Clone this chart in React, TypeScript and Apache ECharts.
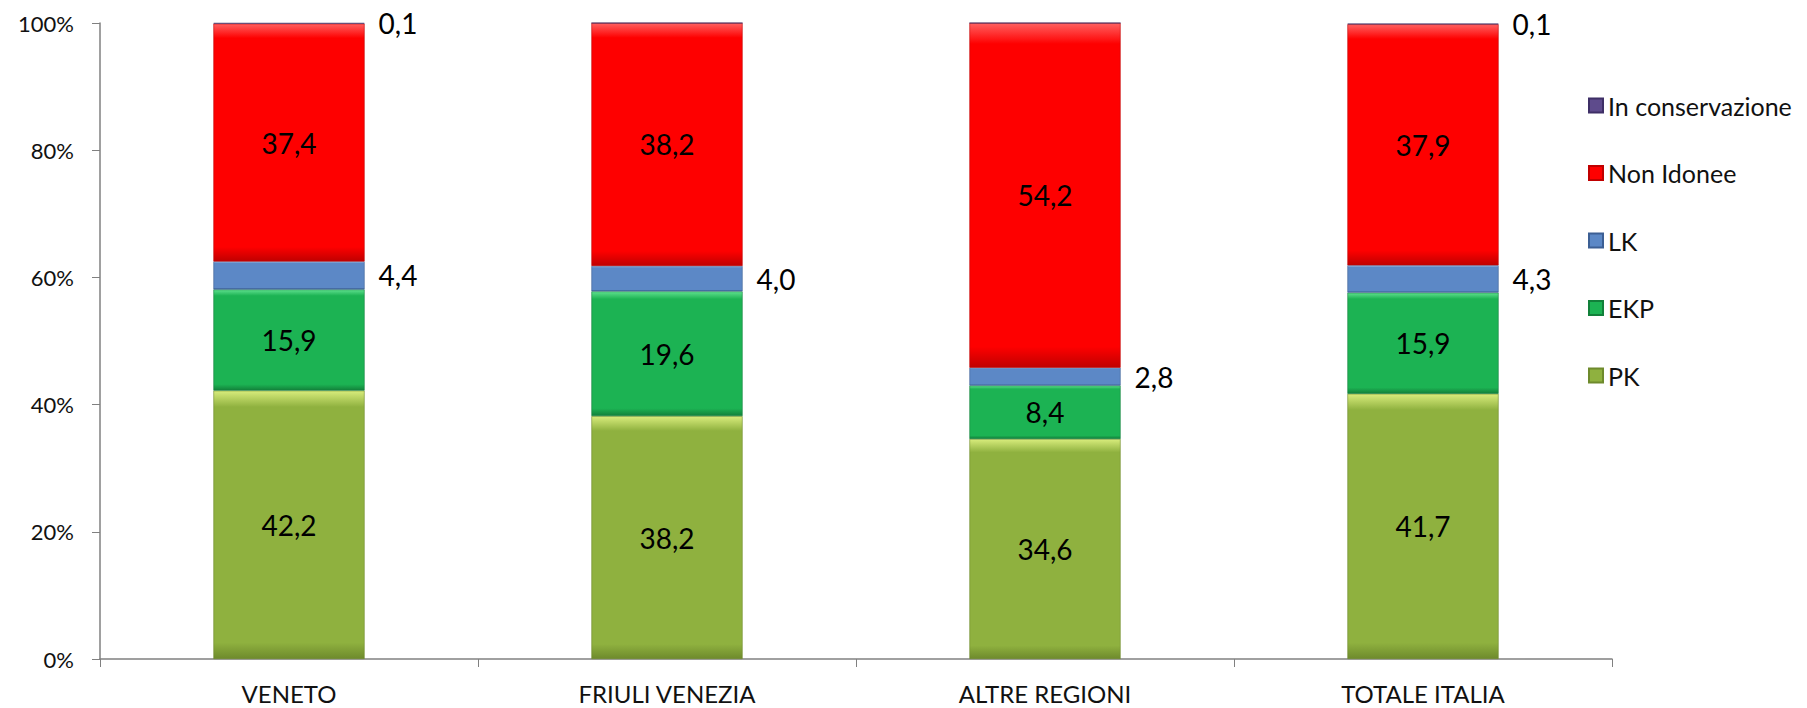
import React, { useEffect, useRef } from "react";
import * as echarts from "echarts";

const categories = ["VENETO", "FRIULI VENEZIA", "ALTRE REGIONI", "TOTALE ITALIA"];
const pk = [42.2, 38.2, 34.6, 41.7];
const ekp = [15.9, 19.6, 8.4, 15.9];
const lk = [4.4, 4.0, 2.8, 4.3];
const nonIdonee = [37.4, 38.2, 54.2, 37.9];
const inConservazione = [0.1, 0, 0, 0.1];
const yTicks = [0, 20, 40, 60, 80, 100];

const FONT = "Lato, 'Open Sans', sans-serif";

function grad(light: string, body: string, dark: string) {
  return new echarts.graphic.LinearGradient(0, 0, 0, 1, [
    { offset: 0, color: light },
    { offset: 0.06, color: body },
    { offset: 0.94, color: body },
    { offset: 1, color: dark },
  ]);
}

const fmt = (v: number) => v.toFixed(1).replace(".", ",");

export default function App() {
  const ref = useRef<HTMLDivElement>(null);
  useEffect(() => {
    if (!ref.current) return;
    document.body.style.margin = "0";
    document.body.style.overflow = "hidden";
    const chart = echarts.init(ref.current, undefined, { renderer: "svg" });
    const insideLabel = {
      show: true,
      position: "inside" as const,
      fontFamily: FONT,
      fontSize: 28,
      color: "#000",
      formatter: (p: any) => fmt(p.value),
    };
    const rightLabel = {
      show: true,
      position: "right" as const,
      distance: 14,
      fontFamily: FONT,
      fontSize: 28,
      color: "#000",
      formatter: (p: any) => (p.value > 0 ? fmt(p.value) : ""),
    };
    const mk = (
      name: string,
      data: number[],
      light: string,
      body: string,
      dark: string,
      label: any
    ) => ({
      name,
      type: "bar",
      stack: "total",
      data,
      barWidth: "40%",
      itemStyle: {
        color: grad(light, body, dark),
        borderColor: dark,
        borderWidth: 0.6,
      },
      label,
    });
    chart.setOption({
      animation: false,
      backgroundColor: "#fff",
      grid: { left: 100, right: 195, top: 23, bottom: 49, containLabel: false },
      legend: {
        orient: "vertical",
        left: 1583,
        top: 88,
        itemWidth: 14,
        itemHeight: 14,
        itemGap: 42.5,
        icon: "rect",
        textStyle: { fontFamily: FONT, fontSize: 25, color: "#111" },
        data: ["In conservazione", "Non Idonee", "LK", "EKP", "PK"],
      },
      xAxis: {
        type: "category",
        data: categories,
        axisLine: { show: true, lineStyle: { color: "#808080", width: 1.5 } },
        axisTick: { show: true, length: 8, alignWithLabel: false, lineStyle: { color: "#808080" } },
        axisLabel: { fontFamily: FONT, fontSize: 24, color: "#111", margin: 22 },
      },
      yAxis: {
        type: "value",
        min: yTicks[0],
        max: yTicks[yTicks.length - 1],
        interval: 20,
        splitLine: { show: false },
        axisLine: { show: true, lineStyle: { color: "#808080", width: 1.5 } },
        axisTick: { show: true, length: 8, lineStyle: { color: "#808080" } },
        axisLabel: {
          fontFamily: FONT,
          fontSize: 22,
          color: "#111",
          margin: 26,
          formatter: (v: number) => v + "%",
        },
      },
      series: [
        mk("PK", pk, "#d8ec7c", "#8fb13f", "#6e8a2c", insideLabel),
        mk("EKP", ekp, "#5fe08e", "#1cb353", "#12803a", insideLabel),
        mk("LK", lk, "#a8c8f0", "#5c88c6", "#3c5f94", rightLabel),
        mk("Non Idonee", nonIdonee, "#ff6060", "#fe0000", "#c00000", insideLabel),
        mk("In conservazione", inConservazione, "#8d7bb8", "#5e4b8c", "#3e2f66", rightLabel),
      ],
    });
    return () => chart.dispose();
  }, []);
  return (
    <div
      ref={ref}
      style={{ position: "fixed", left: 0, top: 0, width: 1807, height: 708 }}
    />
  );
}
